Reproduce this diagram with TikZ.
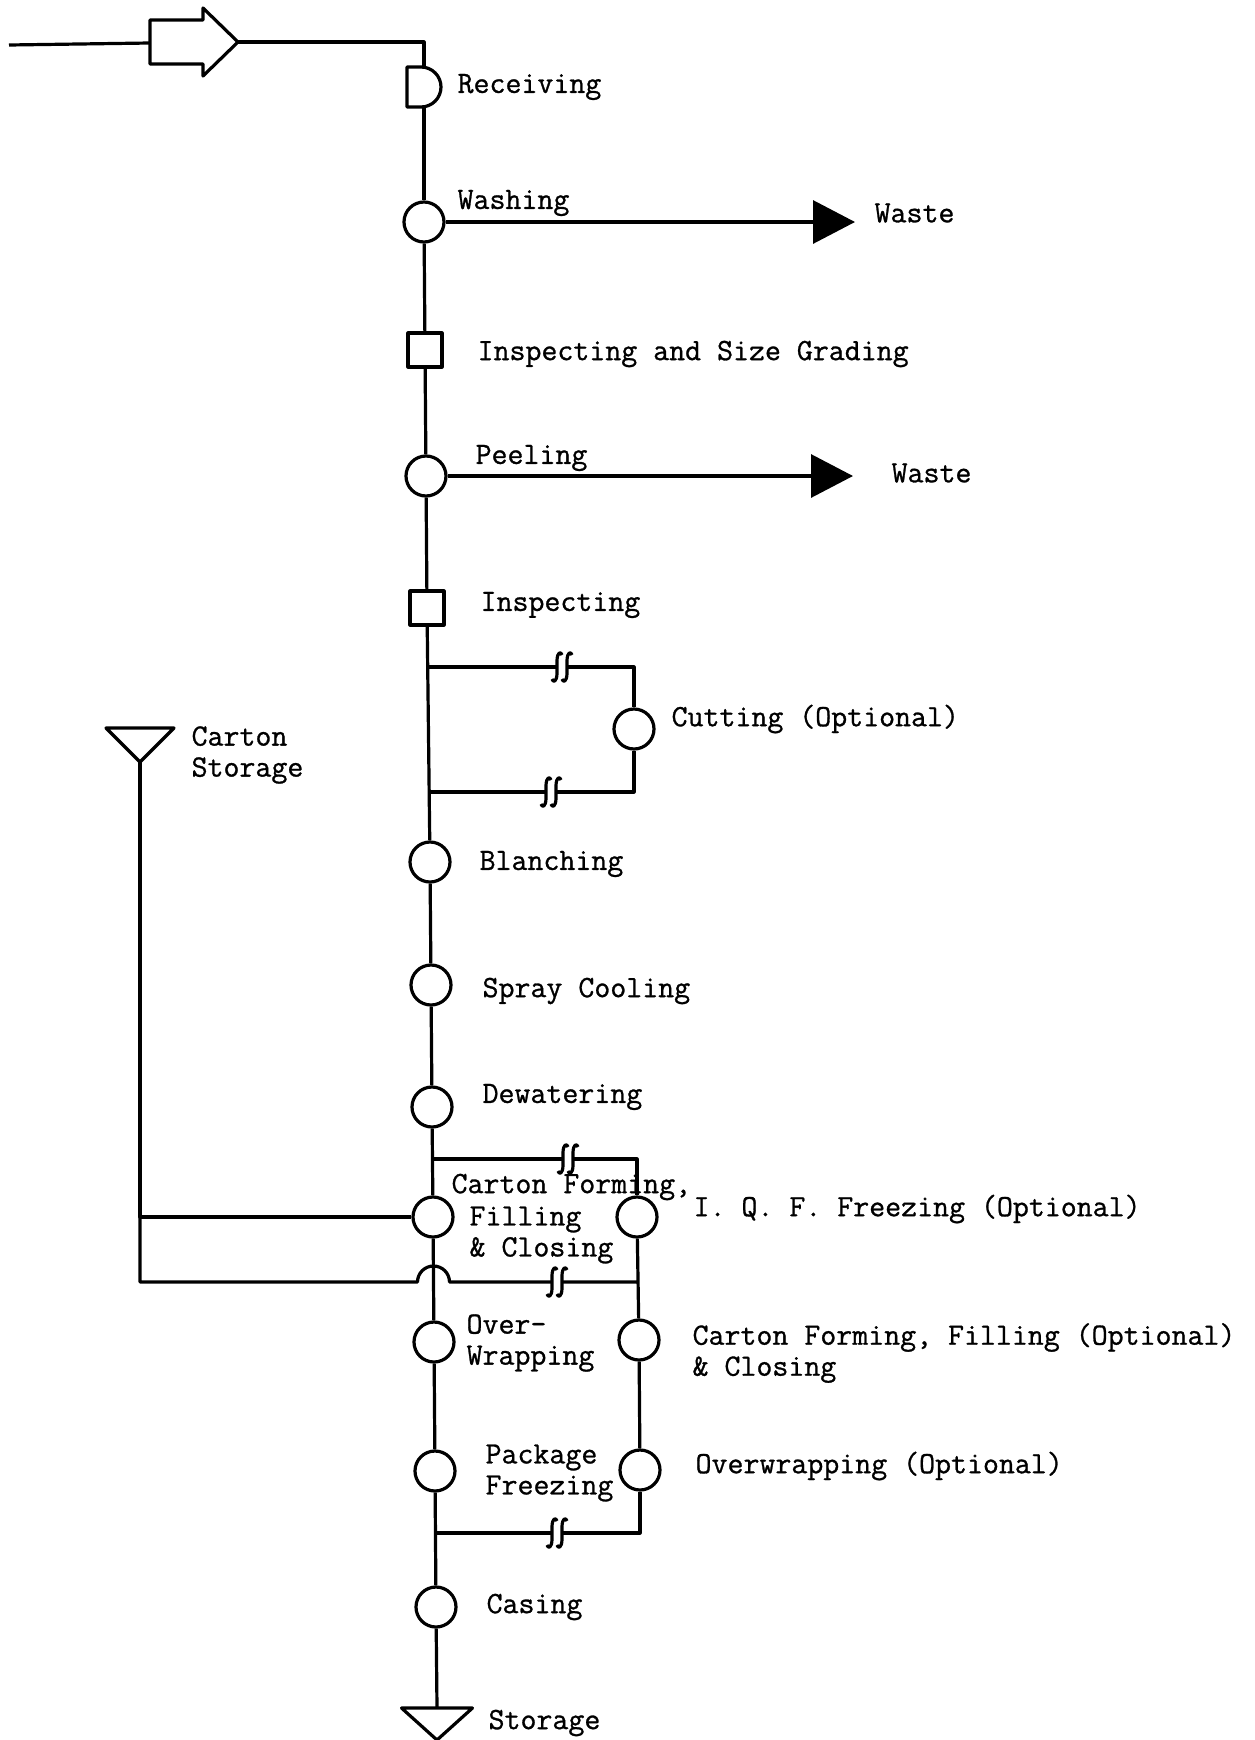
\documentclass[tikz,border=0pt]{standalone}
\usepackage{fontspec}
\usepackage{tikz}
\usetikzlibrary{arrows.meta}
\newfontfamily\typew[FakeBold=0.9]{Latin Modern Mono}
\def\opsize{20pt}
\def\inspsize{17pt}
\def\humprad{8pt}
\tikzset{
	op/.style={circle, draw, minimum size=\opsize, inner sep=0pt},
	insp/.style={rectangle, draw, minimum size=\inspsize, inner sep=0pt},
	holder/.style={inner sep=0pt, outer sep=0pt},
	lbl/.style={anchor=west, inner sep=0pt, align=left, font=\typew\fontsize{15.5}{15.5}\selectfont},
	waste/.style={-{Triangle[length=21pt,width=21.5pt]}},
	brk/.pic={
		\draw (0,-12) .. controls (-1,-16) and (-5,-15) .. (-5,-6) -- (-5,6) .. controls (-5,15) and (-9,16) .. (-10,12);
		\draw (10,-12) .. controls (9,-16) and (5,-15) .. (5,-6) -- (5,6) .. controls (5,15) and (1,16) .. (0,12);
	},
}
\begin{document}
\begin{tikzpicture}[x=0.5pt, y=-0.5pt, line width=1.6pt, line join=round]
	\useasboundingbox (0,0) rectangle (1254,1740);
	% main line
	\coordinate (src) at (9,45);
	\coordinate (move) at (194,42);
	\coordinate (movein) at (150,43);
	\coordinate (moveout) at (238,42);
	\node[holder, minimum width=17pt, minimum height=20pt] (recv) at (424,87) {};
	\node[op] (wash) at (424,222) {};
	\node[insp] (insp1) at (425,350) {};
	\node[op] (peel) at (426,476) {};
	\node[insp] (insp2) at (427,608) {};
	\node[op] (cut) at (634,729) {};
	\node[op] (blanch) at (430,862) {};
	\node[op] (spray) at (431,985) {};
	\node[op] (dewat) at (432,1107) {};
	\node[op] (cfill) at (433,1217) {};
	\node[op] (iqf) at (637,1217) {};
	\node[op] (overw) at (434,1342) {};
	\node[op] (cfill2) at (639,1340) {};
	\node[op] (pkgf) at (435,1471) {};
	\node[op] (overw2) at (640,1470) {};
	\node[op] (casing) at (436,1607) {};
	\node[holder, minimum width=34pt, minimum height=17pt] (cstore) at (140,745) {};
	\node[holder, minimum width=35.5pt, minimum height=16pt] (stor) at (437,1724) {};
	\coordinate (wout1) at (855,222);
	\coordinate (wout2) at (853,476);
	\coordinate (j1) at (428,667);
	\coordinate (b1) at (562,667);
	\coordinate (j2) at (429,792);
	\coordinate (b2) at (551,792);
	\coordinate (j3) at (432,1159);
	\coordinate (b3) at (568,1159);
	\coordinate (j4) at (433.5,1282);
	\coordinate (b4) at (557,1282);
	\coordinate (j4r) at (638,1282);
	\coordinate (j6) at (435.5,1533);
	\coordinate (b6) at (557,1533);

	% symbols drawn by hand
	\draw (move) ++(-44,-22) -- ++(53,0) -- ++(0,-12) -- ++(35,34) -- ++(-35,34) -- ++(0,-12) -- ++(-53,0) -- cycle;
	\draw (recv.north west) -- ++(7pt,0) arc[start angle=90, end angle=-90, radius=10pt] -- (recv.south west) -- cycle;
	\draw (cstore.north west) -- (cstore.north east) -- (cstore.south) -- cycle;
	\draw (stor.north west) -- (stor.north east) -- (stor.south) -- cycle;

	\draw (src) -- (movein);
	\draw (moveout) -| (recv.north);
	\draw (recv) -- (wash);
	\draw[waste] (wash.east) -- (wout1);
	\draw (wash) -- (insp1);
	\draw (insp1) -- (peel);
	\draw[waste] (peel.east) -- (wout2);
	\draw (peel) -- (insp2);
	\draw (insp2) -- (blanch);
	\draw (blanch) -- (spray);
	\draw (spray) -- (dewat);
	\draw (dewat) -- (cfill);
	\draw (cfill) -- (overw);
	\draw (overw) -- (pkgf);
	\draw (pkgf) -- (casing);
	\draw (casing) -- (stor.north);

	% cutting by-pass
	\draw (j1) -- ([xshift=-2.5pt]b1) (b1) pic {brk} ([xshift=2.5pt]b1) -| (cut.north);
	\draw (cut.south) |- ([xshift=2.5pt]b2) (b2) pic {brk} ([xshift=-2.5pt]b2) -- (j2);

	% freezing branch
	\draw (j3) -- ([xshift=-2.5pt]b3) (b3) pic {brk} ([xshift=2.5pt]b3) -| (iqf.north);
	\draw (iqf) -- (cfill2);
	\draw (cfill2) -- (overw2);
	\draw (overw2.south) |- ([xshift=2.5pt]b6) (b6) pic {brk} ([xshift=-2.5pt]b6) -- (j6);

	% cartons
	\draw (cstore.south) |- (cfill.west);
	\draw (cstore.south) |- ([xshift=-\humprad]j4) arc[start angle=180, end angle=0, radius=\humprad]
		-- ([xshift=-2.5pt]b4) (b4) pic {brk} ([xshift=2.5pt]b4) -- (j4r);

	% labels
	\node[lbl] (lrecv) at (456,87) {Receiving};
	\node[lbl] (lwash) at (456,203) {Washing};
	\node[lbl] (lwaste1) at (873,213) {Waste};
	\node[lbl] (lgrade) at (476,354) {Inspecting and Size Grading};
	\node[lbl] (lpeel) at (474,458) {Peeling};
	\node[lbl] (lwaste2) at (890,473) {Waste};
	\node[lbl] (linsp) at (479,605) {Inspecting};
	\node[lbl] (lcut) at (670,719) {Cutting (Optional)};
	\node[lbl] (lcstore) at (190,755) {Carton\\Storage};
	\node[lbl] (lblanch) at (478,864) {Blanching};
	\node[lbl] (lspray) at (481,991) {Spray Cooling};
	\node[lbl] (ldewat) at (481,1097) {Dewatering};
	\node[lbl] (lcform) at (450,1187) {Carton Forming,};
	\node[lbl] (lcfill) at (468,1235) {Filling\\\& Closing};
	\node[lbl] (liqf) at (692,1209) {I. Q. F. Freezing (Optional)};
	\node[lbl] (lover) at (465,1343) {Over-\\Wrapping};
	\node[lbl] (lcfill2) at (691,1353) {Carton Forming, Filling (Optional)\\\& Closing};
	\node[lbl] (lpkgf) at (484,1473) {Package\\Freezing};
	\node[lbl] (loverw2) at (694,1466) {Overwrapping (Optional)};
	\node[lbl] (lcasing) at (485,1607) {Casing};
	\node[lbl] (lstor) at (487,1723) {Storage};
\end{tikzpicture}
\end{document}
